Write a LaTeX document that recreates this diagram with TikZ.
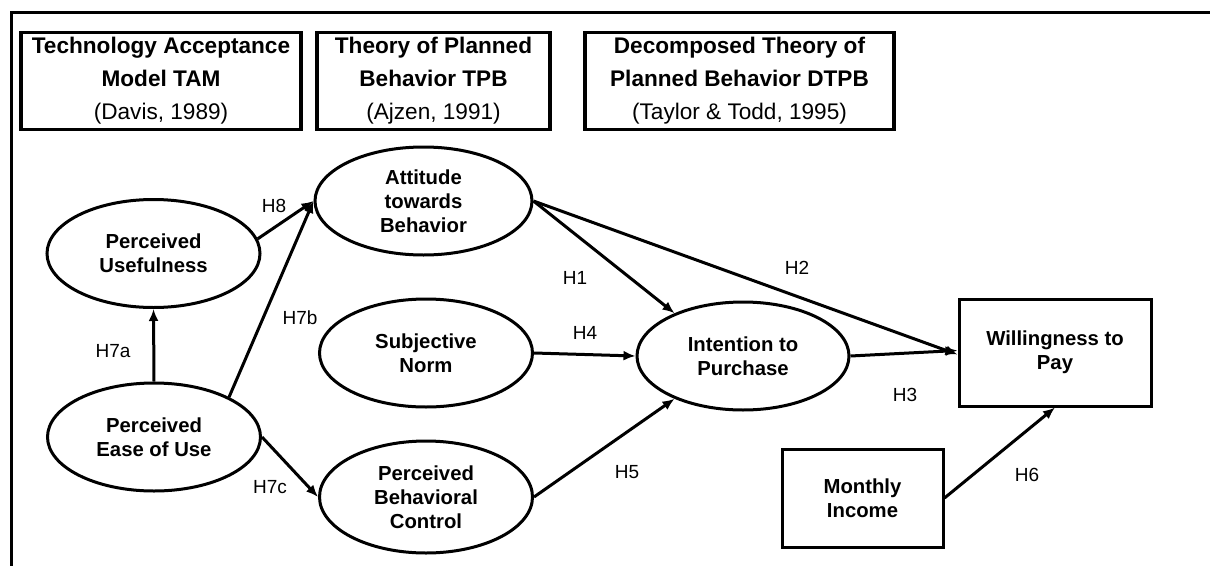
\documentclass[tikz,border=0pt]{standalone}
\usepackage{fontspec}
\setmainfont{Liberation Sans}
\usetikzlibrary{arrows.meta, shapes.geometric}
\tikzset{
  construct/.style={draw, ellipse, line width=3pt, inner sep=0pt,
    minimum width=213pt, minimum height=108pt, align=center,
    font=\fontsize{20.3}{24}\selectfont\bfseries},
  varbox/.style={draw, rectangle, line width=3pt, inner sep=0pt, align=center,
    font=\fontsize{20.3}{24}\selectfont\bfseries},
  theorybox/.style={draw, rectangle, line width=3.5pt, inner sep=0pt,
    minimum height=97pt, align=center, font=\fontsize{22.6}{33}\selectfont},
  link/.style={line width=3pt, -{Latex[length=12pt,width=10pt]}},
  hyp/.style={inner sep=0pt, font=\fontsize{19}{19}\selectfont}
}

\begin{document}
\begin{tikzpicture}[x=1pt, y=-1pt]
        \useasboundingbox (0,0) rectangle (1210,565);
        % outer frame (cut at right and bottom)
        \draw[line width=3pt] (11,566) -- (11,12) -- (1212,12);

        % theory boxes
        \node[theorybox, minimum width=280pt] (tam) at (161,81)
             {\textbf{Technology Acceptance}\\\textbf{Model TAM}\\(Davis, 1989)};
        \node[theorybox, minimum width=233pt] (tpb) at (433.5,81)
             {\textbf{Theory of Planned}\\\textbf{Behavior TPB}\\(Ajzen, 1991)};
        \node[theorybox, minimum width=309pt] (dtpb) at (739.5,81)
             {\textbf{Decomposed Theory of}\\\textbf{Planned Behavior DTPB}\\(Taylor \& Todd, 1995)};

        % constructs
        \node[construct] (pu) at (153.5,253.5) {Perceived\\Usefulness};
        \node[construct] (peou) at (154,437) {Perceived\\Ease of Use};
        \node[construct, minimum width=217pt] (atb) at (423.5,201) {Attitude\\towards\\Behavior};
        \node[construct] (sn) at (426,353) {Subjective\\Norm};
        \node[construct, minimum height=112pt] (pbc) at (426,497) {Perceived\\Behavioral\\Control};
        \node[construct, minimum width=212pt] (itp) at (743,356) {Intention to\\Purchase};
        \node[varbox, minimum width=192pt, minimum height=107pt] (wtp) at (1055,352.5) {Willingness to\\Pay};
        \node[varbox, minimum width=161pt, minimum height=98pt] (inc) at (862.5,498) {Monthly\\Income};

        % hypotheses
        \draw[link] (peou.north) -- (pu.south);
        \draw[link] (pu.8) -- (atb.west);
        \draw[link] (peou.28) -- (atb.west);
        \draw[link] (peou.east) -- (pbc.west);
        \draw[link] (atb.east) -- (itp.148);
        \draw[link] (atb.east) -- ([yshift=-2pt]wtp.west);
        \draw[link] (sn.east) -- (itp.west);
        \draw[link] (pbc.east) -- (itp.212);
        \draw[link] (itp.east) -- ([yshift=2pt]wtp.west);
        \draw[link] (inc.east) -- (wtp.south);

        \node[hyp] (h8) at (274,206) {H8};
        \node[hyp] (h7a) at (113,351) {H7a};
        \node[hyp] (h7b) at (300,318) {H7b};
        \node[hyp] (h7c) at (270,487) {H7c};
        \node[hyp] (h1) at (575,278) {H1};
        \node[hyp] (h2) at (797,268) {H2};
        \node[hyp] (h4) at (585,333) {H4};
        \node[hyp] (h3) at (905,395) {H3};
        \node[hyp] (h5) at (627,472) {H5};
        \node[hyp] (h6) at (1027,475) {H6};
\end{tikzpicture}
\end{document}
